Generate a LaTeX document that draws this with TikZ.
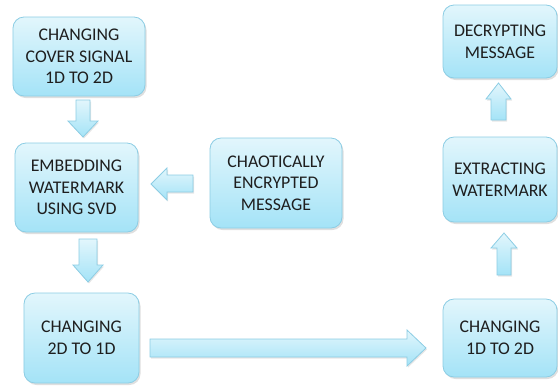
\documentclass[tikz,border=0pt]{standalone}
\usepackage{fontspec}
\setmainfont{Carlito}
\usetikzlibrary{shadows}
\definecolor{boxtop}{HTML}{E2F6FC}
\definecolor{boxbot}{HTML}{A4E3F7}
\definecolor{boxline}{HTML}{8CCDE4}
\definecolor{txt}{HTML}{1E1E1E}
\tikzset{
  procbox/.style={draw=boxline, line width=0.8bp, rounded corners=11bp,
    top color=boxtop, bottom color=boxbot, align=center, text=txt,
    font=\fontsize{17.8bp}{21.7bp}\selectfont, inner sep=0pt,
    drop shadow={shadow xshift=1.5bp, shadow yshift=-2bp, opacity=0.25, fill=gray}},
  blockarrow/.style={draw=boxline, line width=0.8bp, top color=boxtop, bottom color=boxbot,
    drop shadow={shadow xshift=1bp, shadow yshift=-1.5bp, opacity=0.2, fill=gray}}
}
\begin{document}
\begin{tikzpicture}[x=1bp,y=-1bp]
\useasboundingbox (0,0) rectangle (558,385);
\node[procbox, minimum width=132bp, minimum height=79bp] (cover) at (79,56.5) {CHANGING\\COVER SIGNAL\\1D TO 2D};
\node[procbox, minimum width=123bp, minimum height=89bp] (embed) at (76.5,187.5) {EMBEDDING\\WATERMARK\\USING SVD};
\node[procbox, minimum width=132bp, minimum height=90bp] (chaos) at (276,183) {CHAOTICALLY\\ENCRYPTED\\MESSAGE};
\node[procbox, minimum width=115bp, minimum height=90bp] (todone) at (81.5,338) {CHANGING\\2D TO 1D};
\node[procbox, minimum width=114bp, minimum height=78bp] (totwo) at (500,338) {CHANGING\\1D TO 2D};
\node[procbox, minimum width=114bp, minimum height=85bp] (extract) at (500,179.5) {EXTRACTING\\WATERMARK};
\node[procbox, minimum width=114bp, minimum height=73bp] (decrypt) at (500,41.5) {DECRYPTING\\MESSAGE};
% down arrow 1 (cover -> embed)
\draw[blockarrow] (76,100) -- (90,100) -- (90,121) -- (98,121) -- (83,137) -- (68,121) -- (76,121) -- cycle;
% down arrow 2 (embed -> todone)
\draw[blockarrow] (79,239) -- (97,239) -- (97,265) -- (103,265) -- (88,282) -- (73,265) -- (79,265) -- cycle;
% left arrow (chaos -> embed)
\draw[blockarrow] (193,175) -- (167,175) -- (167,168) -- (151,184) -- (167,200) -- (167,192) -- (193,192) -- cycle;
% long right arrow (todone -> totwo)
\draw[blockarrow] (150,339) -- (407,339) -- (407,330) -- (426,348) -- (407,366) -- (407,357) -- (150,357) -- cycle;
% up arrow lower (totwo -> extract)
\draw[blockarrow] (497,275) -- (497,248) -- (491,248) -- (504,233) -- (517,248) -- (511,248) -- (511,275) -- cycle;
% up arrow upper (extract -> decrypt)
\draw[blockarrow] (491,120) -- (491,99) -- (486,99) -- (498.5,83) -- (511,99) -- (506,99) -- (506,120) -- cycle;
\end{tikzpicture}
\end{document}
